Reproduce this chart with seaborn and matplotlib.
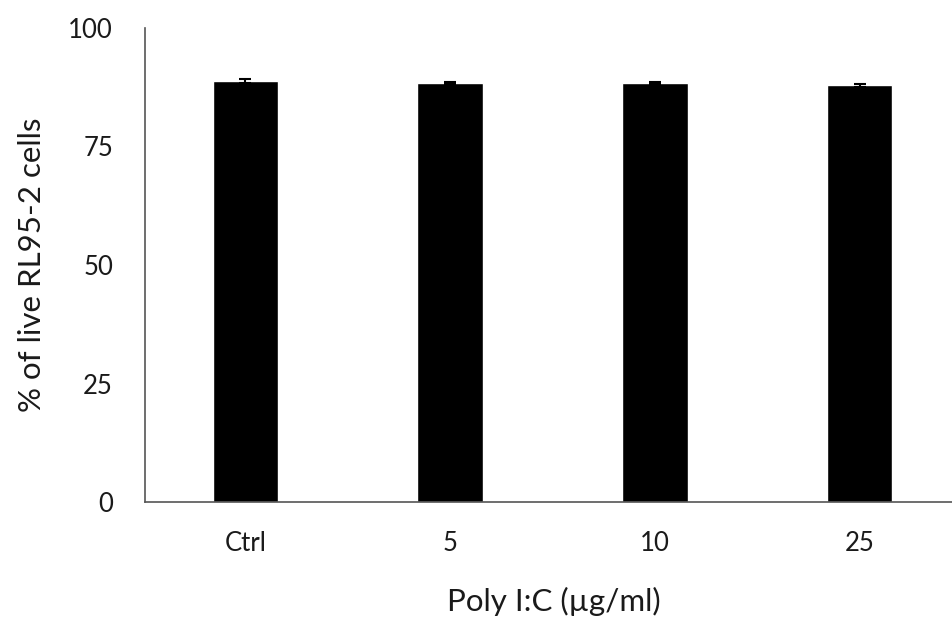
import matplotlib
matplotlib.use("Agg")
import matplotlib.pyplot as plt
import seaborn as sns
import pandas as pd

categories = ["Ctrl", "5", "10", "25"]
values = [88.8, 88.4, 88.4, 87.9]
errors = [0.35, 0.3, 0.3, 0.35]
yticks = [0, 25, 50, 75, 100]

sns.set_theme(style="white")
plt.rcParams["font.family"] = ["Lato", "DejaVu Sans"]

df = pd.DataFrame({"cat": categories, "val": values})

fig = plt.figure(figsize=(9.52, 6.22), dpi=100)
ax = fig.add_axes([145/952, 120/622, 817/952, 474/622])
sns.barplot(data=df, x="cat", y="val", color="black", width=0.32,
            saturation=1, ax=ax, errorbar=None)
ax.errorbar(range(len(values)), values, yerr=errors, fmt="none",
            ecolor="black", elinewidth=1.5, capsize=4.5, capthick=1.5)
ax.set_xlim(-0.49, 3.5)
ax.set_ylim(0, 100)
ax.set_yticks(yticks)
ax.set_yticklabels([str(t) for t in yticks])
ax.tick_params(axis="both", length=0, labelsize=18.5, colors="#1a1a1a")
ax.tick_params(axis="x", pad=21)
ax.tick_params(axis="y", pad=23)
for s in ["top", "right"]:
    ax.spines[s].set_visible(False)
for s in ["left", "bottom"]:
    ax.spines[s].set_color("#555555")
    ax.spines[s].set_linewidth(1.2)
ax.set_xlabel("Poly I:C (µg/ml)", fontsize=22.5, labelpad=22, color="#1a1a1a")
ax.set_ylabel("% of live RL95-2 cells", fontsize=22.5, labelpad=16, color="#1a1a1a")
fig.savefig("out.png", dpi=100)
